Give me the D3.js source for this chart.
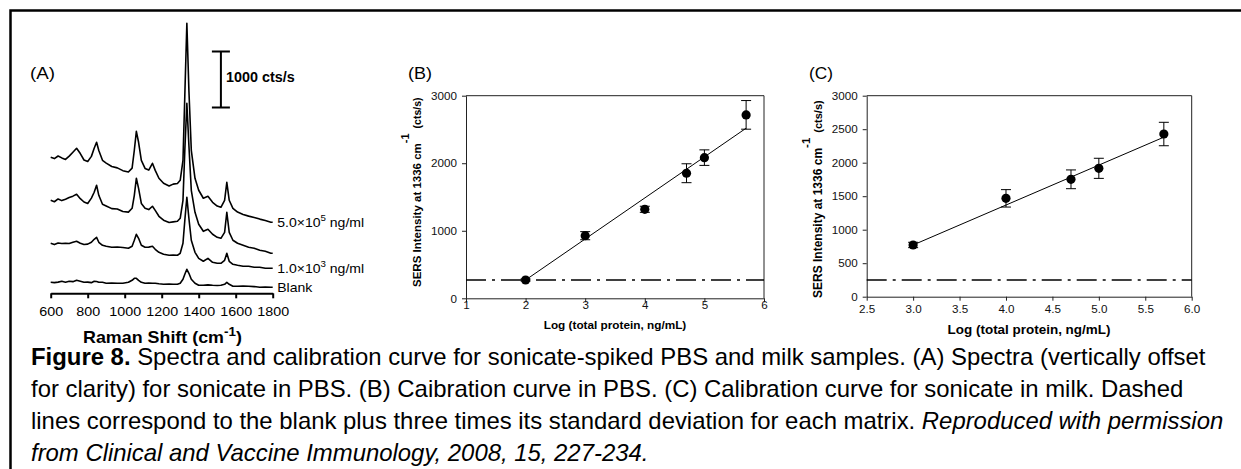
<!DOCTYPE html>
<html>
<head>
<meta charset="utf-8">
<script src="https://cdn.jsdelivr.net/npm/d3@7"></script>
<style>
  html, body { margin: 0; padding: 0; background: #fff; }
  svg { display: block; font-family: Arial, 'Liberation Sans', sans-serif; }
</style>
</head>
<body>
<svg id="fig" width="1241" height="469"></svg>
<script>
// ---- panel A: Raman spectra (cts/s, before vertical offset) ----
const ramanShift = [600, 620, 640, 660, 680, 700, 720, 740, 760, 780,
  800, 820, 835, 848, 860, 880, 900, 930, 960, 990,
  1020, 1040, 1052, 1063, 1075, 1090, 1110, 1130, 1150, 1165,
  1185, 1210, 1240, 1262, 1285, 1300, 1315, 1325, 1336, 1347,
  1360, 1380, 1400, 1425, 1450, 1475, 1500, 1520, 1540, 1552,
  1565, 1585, 1610, 1640, 1670, 1700, 1730, 1760, 1790, 1800];
const spectrumHigh = [1329, 1305, 1352, 1318, 1290, 1350, 1420, 1490, 1395, 1280,
  1255, 1345, 1490, 1597, 1450, 1275, 1225, 1165, 1140, 1090,
  1065, 1135, 1454, 1793, 1597, 1275, 1130, 1100, 1222, 1095,
  955, 865, 815, 850, 862, 918, 1275, 2436, 3722, 2525,
  1454, 954, 740, 597, 632, 525, 458, 436, 561, 882,
  561, 418, 350, 308, 278, 255, 225, 200, 170, 168];
const spectrumMid = [1011, 985, 1035, 1005, 1030, 1060, 1085, 1118, 1040, 980,
  955, 1050, 1154, 1279, 1100, 940, 910, 862, 855, 810,
  800, 868, 1100, 1404, 1225, 955, 870, 845, 904, 830,
  725, 655, 615, 625, 636, 690, 1011, 1904, 2743, 1993,
  1190, 797, 582, 457, 493, 404, 350, 332, 439, 797,
  439, 297, 243, 207, 172, 154, 118, 100, 64, 64];
const spectrumLow = [543, 520, 548, 538, 545, 540, 561, 579, 545, 522,
  528, 561, 614, 650, 561, 507, 489, 472, 476, 468,
  454, 489, 597, 704, 632, 507, 472, 475, 489, 436,
  382, 347, 329, 332, 329, 364, 543, 954, 1365, 990,
  597, 382, 275, 222, 275, 204, 186, 186, 239, 364,
  222, 168, 150, 132, 132, 114, 114, 96, 96, 96];
const spectrumBlank = [196, 190, 200, 214, 196, 214, 208, 232, 214, 196,
  200, 190, 214, 210, 196, 196, 179, 185, 179, 179,
  196, 232, 268, 268, 232, 196, 179, 185, 179, 179,
  170, 161, 165, 161, 161, 179, 250, 339, 429, 357,
  250, 179, 143, 143, 150, 143, 140, 143, 161, 196,
  161, 125, 125, 130, 125, 120, 107, 110, 107, 107];
const spectrumOffsets = [1100, 650, 350, 0];
const spectrumLabels = [['5.0×10', '5', ' ng/ml'], null, ['1.0×10', '3', ' ng/ml'], ['Blank']];
const ramanTicks = [600, 800, 1000, 1200, 1400, 1600, 1800];
const scaleBarAt = [1520, 3320]; // cm-1, cts/s
const scaleBarSize = 1000;

// ---- panel B: calibration in PBS ----
const pbsLog = [2, 3, 4, 4.7, 5, 5.7];
const pbsMean = [271, 927, 1318, 1852, 2083, 2716];
const pbsErr = [15, 60, 45, 140, 115, 212];
const pbsFitRange = [2, 5.7];
const pbsFitCoef = [-944, 607.5];
const pbsLimit = 271;
const pbsXTicks = [1, 2, 3, 4, 5, 6];
const pbsYTicks = [0, 1000, 2000, 3000];

// ---- panel C: calibration in milk ----
const milkLog = [3, 4, 4.7, 5, 5.7];
const milkMean = [772, 1468, 1752, 1916, 2428];
const milkErr = [40, 130, 140, 150, 175];
const milkFitRange = [3, 5.7];
const milkFitCoef = [-1016, 596];
const milkLimit = 250;
const milkXTicks = [2.5, 3, 3.5, 4, 4.5, 5, 5.5, 6];
const milkYTicks = [0, 500, 1000, 1500, 2000, 2500, 3000];

const captionLines = [
  [{t: 'Figure 8.', weight: 'bold'}, ' Spectra and calibration curve for sonicate-spiked PBS and milk samples. (A) Spectra (vertically offset'],
  ['for clarity) for sonicate in PBS. (B) Caibration curve in PBS. (C) Calibration curve for sonicate in milk. Dashed'],
  ['lines correspond to the blank plus three times its standard deviation for each matrix. ', {t: 'Reproduced with permission', style: 'italic'}],
  [{t: 'from Clinical and Vaccine Immunology, 2008, 15, 227-234.', style: 'italic'}],
];

const svg = d3.select('#fig');
svg.append('rect').attr('width', 1241).attr('height', 469).attr('fill', '#fff');

// outer frame (top + left only)
svg.append('path')
  .attr('d', 'M10.5,469V10.5H1241')
  .attr('fill', 'none').attr('stroke', '#000').attr('stroke-width', 2.5);

// text with optional superscripts, bold / italic parts and horizontal fitting
function addText(parent, x, y, parts, opts = {}) {
  const t = parent.append('text')
    .attr('font-size', opts.size || 12)
    .attr('font-weight', opts.weight || 'normal')
    .attr('text-anchor', opts.anchor || 'start')
    .attr('fill', '#000');
  let base = 0;
  parts.forEach((p) => {
    const s = typeof p === 'string' ? {t: p} : p;
    const ts = t.append('tspan').text(s.t);
    if (s.weight) ts.attr('font-weight', s.weight);
    if (s.style) ts.attr('font-style', s.style);
    if (s.size) ts.attr('font-size', s.size);
    if (s.dx) ts.attr('dx', s.dx);
    const rise = s.rise || 0;
    if (rise !== base) {
      ts.attr('dy', base - rise);
      base = rise;
    }
  });
  let sx = opts.sx || 1;
  if (opts.width) sx = opts.width / t.node().getBBox().width;
  t.attr('transform', 'translate(' + x + ',' + y + ')' +
    (opts.rotate ? ' rotate(' + opts.rotate + ')' : ' scale(' + sx + ',1)'));
  t.node().__sx = sx;
  return t;
}

// ================= Panel A =================
const xA = d3.scaleLinear().domain([600, 1800]).range([50.7, 272.7]);
const yA = d3.scaleLinear().domain([0, 1000]).range([293.3, 237.3]);
const gA = svg.append('g');

const spectra = [spectrumHigh, spectrumMid, spectrumLow, spectrumBlank];
spectra.forEach((series, i) => {
  const pts = ramanShift.map((w, j) => [w, series[j] + spectrumOffsets[i]]);
  gA.append('path')
    .attr('d', d3.line().x((d) => xA(d[0])).y((d) => yA(d[1]))(pts))
    .attr('fill', 'none').attr('stroke', '#000')
    .attr('stroke-width', 1.6).attr('stroke-linejoin', 'round');
  const lab = spectrumLabels[i];
  if (lab) {
    const endY = yA(series[series.length - 1] + spectrumOffsets[i]);
    const parts = lab.length === 3 ?
      [lab[0], {t: lab[1], rise: 6, size: 9}, {t: lab[2], rise: 0}] : [lab[0]];
    addText(gA, xA(1800) + 4.5, endY + 5, parts, {size: 13, sx: 1.08});
  }
});

// scale bar
const sbx = xA(scaleBarAt[0]);
const sbTop = yA(scaleBarAt[1] + scaleBarSize);
const sbBot = yA(scaleBarAt[1]);
gA.append('path')
  .attr('d', 'M' + (sbx - 9) + ',' + sbTop + 'H' + (sbx + 9) +
    'M' + sbx + ',' + sbTop + 'V' + sbBot +
    'M' + (sbx - 9) + ',' + sbBot + 'H' + (sbx + 9))
  .attr('stroke', '#000').attr('stroke-width', 2).attr('fill', 'none');
addText(gA, sbx + 5, 82, [scaleBarSize + ' cts/s'], {size: 14, weight: 'bold', width: 69});

// axis
const axA = gA.append('g')
  .attr('transform', 'translate(0,' + yA(0) + ')')
  .call(d3.axisBottom(xA).tickValues(ramanTicks).tickSize(5).tickSizeOuter(0).tickFormat(d3.format('d')));
axA.select('.domain').attr('stroke', '#000').attr('stroke-width', 2);
axA.selectAll('.tick line').attr('stroke', '#000').attr('stroke-width', 2);
axA.selectAll('.tick text')
  .attr('y', 22.5).attr('dy', 0)
  .attr('font-size', 13).attr('font-family', 'Arial, Liberation Sans, sans-serif')
  .attr('fill', '#000').attr('transform', 'scale(1.1,1)');

addText(gA, 83, 343, ['Raman Shift (cm', {t: '-1', rise: 7, size: 12}, {t: ')', rise: 0}],
  {size: 16, weight: 'bold', width: 159});
addText(gA, 30, 79, ['(A)'], {size: 16, width: 25});

// ================= Panels B and C =================
function calibration(cfg) {
  const g = svg.append('g');
  const x = d3.scaleLinear().domain(cfg.xDomain).range(cfg.xRange);
  const y = d3.scaleLinear().domain([0, 3000]).range(cfg.yRange);

  // box top/right
  g.append('path')
    .attr('d', 'M' + x.range()[0] + ',' + y(3000) + 'H' + x.range()[1] + 'V' + y(0))
    .attr('fill', 'none').attr('stroke', '#222').attr('stroke-width', 1);

  const ax = g.append('g')
    .attr('transform', 'translate(0,' + y(0) + ')')
    .call(d3.axisBottom(x).tickValues(cfg.xTicks).tickSize(4).tickSizeOuter(0).tickFormat(cfg.xFormat));
  ax.selectAll('.tick text').attr('y', cfg.xLabelDrop).attr('dy', 0);
  const ay = g.append('g')
    .attr('transform', 'translate(' + x.range()[0] + ',0)')
    .call(d3.axisLeft(y).tickValues(cfg.yTicks).tickSize(4).tickSizeOuter(0).tickFormat(d3.format('d')));
  ay.selectAll('.tick text').attr('x', -8.5).attr('dy', '0.34em');
  [ax, ay].forEach((a) => {
    a.select('.domain').attr('stroke', '#222').attr('stroke-width', 1);
    a.selectAll('.tick line').attr('stroke', '#222');
    a.selectAll('.tick text')
      .attr('font-size', 11).attr('font-family', 'Arial, Liberation Sans, sans-serif')
      .attr('fill', '#111').attr('transform', 'scale(1.06,1)');
  });

  // limit of detection (dash-dot)
  g.append('line')
    .attr('x1', x.range()[0]).attr('x2', x.range()[1])
    .attr('y1', y(cfg.limit)).attr('y2', y(cfg.limit))
    .attr('stroke', '#000').attr('stroke-width', 1.5)
    .attr('stroke-dasharray', '20,6,3,6');

  // fit line
  const fy = (v) => cfg.fitCoef[0] + cfg.fitCoef[1] * v;
  g.append('line')
    .attr('x1', x(cfg.fitRange[0])).attr('y1', y(fy(cfg.fitRange[0])))
    .attr('x2', x(cfg.fitRange[1])).attr('y2', y(fy(cfg.fitRange[1])))
    .attr('stroke', '#000').attr('stroke-width', 1);

  // error bars + points
  cfg.xs.forEach((v, i) => {
    const cx = x(v);
    const top = y(cfg.mean[i] + cfg.err[i]);
    const bot = y(cfg.mean[i] - cfg.err[i]);
    g.append('path')
      .attr('d', 'M' + (cx - 5) + ',' + top + 'H' + (cx + 5) + 'M' + cx + ',' + top + 'V' + bot +
        'M' + (cx - 5) + ',' + bot + 'H' + (cx + 5))
      .attr('stroke', '#000').attr('stroke-width', 1).attr('fill', 'none');
    g.append('circle').attr('cx', cx).attr('cy', y(cfg.mean[i])).attr('r', 4.6).attr('fill', '#000');
  });

  addText(g, cfg.xTitle[0], cfg.xTitle[1], ['Log (total protein, ng/mL)'],
    {size: cfg.xTitle[2], weight: 'bold', anchor: 'middle', width: cfg.xTitle[3]});
  addText(g, cfg.yTitle[0], cfg.yTitle[1],
    ['SERS Intensity at 1336 cm', {t: '-1', rise: 12, size: cfg.yTitle[2] - 0.5},
      {t: '(cts/s)', rise: 0, dx: 5, size: cfg.yTitle[2] - 1}],
    {size: cfg.yTitle[2], weight: 'bold', rotate: -90});
  addText(g, cfg.tag[0], cfg.tag[1], [cfg.tag[2]], {size: 16, width: 24});
}

calibration({
  xDomain: [1, 6], xRange: [466, 764], yRange: [298.3, 95.7],
  xTicks: pbsXTicks, yTicks: pbsYTicks, xFormat: d3.format('d'), xLabelDrop: 11,
  limit: pbsLimit, fitCoef: pbsFitCoef, fitRange: pbsFitRange,
  xs: pbsLog, mean: pbsMean, err: pbsErr,
  xTitle: [615, 329, 11.5, 143], yTitle: [420.5, 287, 11.5], tag: [408, 79, '(B)'],
});
calibration({
  xDomain: [2.5, 6], xRange: [866.7, 1191.7], yRange: [296.7, 95.7],
  xTicks: milkXTicks, yTicks: milkYTicks, xFormat: d3.format('.1f'), xLabelDrop: 16,
  limit: milkLimit, fitCoef: milkFitCoef, fitRange: milkFitRange,
  xs: milkLog, mean: milkMean, err: milkErr,
  xTitle: [1029, 334, 13, 163], yTitle: [821.5, 298, 12], tag: [809, 79, '(C)'],
});

// ================= Caption =================
const capBase = [365, 397, 429, 461];
let capSx = 1;
captionLines.forEach((parts, i) => {
  const t = addText(svg, 31, capBase[i], parts, i === 0 ? {size: 23, width: 1176} : {size: 23, sx: capSx});
  if (i === 0) capSx = t.node().__sx;
});
</script>
</body>
</html>
